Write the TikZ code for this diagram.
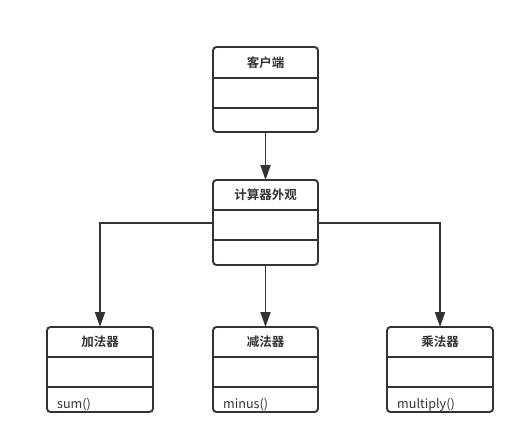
\documentclass[tikz,border=0pt]{standalone}
\usepackage{fontspec}
\setmainfont{Noto Sans CJK SC}
\newfontfamily\cjkbold{Noto Sans CJK SC Bold}
\usetikzlibrary{arrows.meta}
\definecolor{ink}{HTML}{333333}
\tikzset{
  line/.style={draw=ink, line width=1.9pt},
  cls/.style={line, rounded corners=3.5pt},
  ttl/.style={font=\cjkbold\fontsize{12.5}{14}\selectfont, text=ink},
  mth/.style={font=\fontsize{12.6}{14}\selectfont, text=ink, anchor=base west, inner sep=0pt},
  conn/.style={line, -{Triangle[length=15pt,width=10pt]}}
}
\newcommand{\umlbox}[5]{% name, x1, y1, x2, y2
  \draw[cls] (#2,#3) rectangle (#4,#5);
  \draw[line] (#2,#3+30) -- (#4,#3+30);
  \draw[line] (#2,#3+60) -- (#4,#3+60);
  \coordinate (#1-top) at ({(#2+#4)/2},#3);
  \coordinate (#1-bot) at ({(#2+#4)/2},#5);
  \coordinate (#1-l) at (#2,#3+43);
  \coordinate (#1-r) at (#4,#3+43);
  \coordinate (#1-m) at (#2+10,#3+81);
}
\begin{document}
\begin{tikzpicture}[x=1pt,y=-1pt]
\useasboundingbox (0,0) rectangle (526,444);
\fill[white] (0,0) rectangle (526,444);
% client
\draw[cls] (213,47) rectangle (318,132);
\draw[line] (213,78) -- (318,78);
\draw[line] (213,108) -- (318,108);
\node[ttl] (client) at (265.5,62.5) {客户端};
\coordinate (client-bot) at (265.5,132);
% facade
\umlbox{fac}{213}{180}{318}{265}
\node[ttl] (facade) at (265.5,195) {计算器外观};
% adder
\umlbox{add}{47}{327}{153}{412}
\node[ttl] (adder) at (100,342) {加法器};
\node[mth] (sum) at (add-m) {sum()};
% subtractor
\umlbox{sub}{213}{327}{318}{412}
\node[ttl] (subtr) at (265.5,342) {减法器};
\node[mth] (minus) at (sub-m) {minus()};
% multiplier
\umlbox{mul}{387}{327}{493}{412}
\node[ttl] (multi) at (440,342) {乘法器};
\node[mth] (mult) at (mul-m) {multiply()};
% connectors
\draw[conn] (client-bot) -- (fac-top);
\draw[conn] (fac-bot) -- (sub-top);
\draw[conn] (fac-l) -| (add-top);
\draw[conn] (fac-r) -| (mul-top);
\end{tikzpicture}
\end{document}
